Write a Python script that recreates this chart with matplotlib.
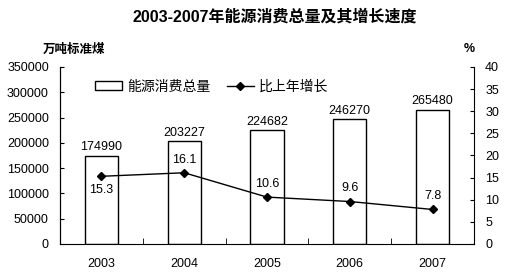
import matplotlib
matplotlib.use("Agg")
import numpy as np
from matplotlib import pyplot as plt
from matplotlib.lines import Line2D
from matplotlib.patches import Patch

plt.rcParams['font.family'] = ['Liberation Sans', 'Noto Sans CJK SC']

years = ['2003', '2004', '2005', '2006', '2007']
consumption = [174990, 203227, 224682, 246270, 265480]
growth = [15.3, 16.1, 10.6, 9.6, 7.8]
growth_label_above = [False, True, True, True, True]

fig = plt.figure(figsize=(5.12, 2.78), dpi=100)
ax = fig.add_axes([60 / 512, 1 - 244 / 278, 414 / 512, 177 / 278])
ax2 = ax.twinx()

x = np.arange(len(years))
ax.bar(x, consumption, width=0.4, facecolor='white', edgecolor='black', lw=1.0, zorder=2)
for xi, v in zip(x, consumption):
    ax.text(xi, v + 5000, f"{v}", ha='center', va='bottom', fontsize=9)

ax2.plot(x, growth, color='black', lw=1.0, marker='D', ms=4, zorder=3)
for xi, v, up in zip(x, growth, growth_label_above):
    if up:
        ax2.text(xi, v + 1.6, f"{v}", ha='center', va='bottom', fontsize=9)
    else:
        ax2.text(xi, v - 1.8, f"{v}", ha='center', va='top', fontsize=9)

ax.set_xlim(-0.5, len(years) - 0.5)
ax.set_ylim(0, 350000)
ax.set_yticks(np.arange(0, 350001, 50000))
ax2.set_ylim(0, 40)
ax2.set_yticks(np.arange(0, 41, 5))
ax.set_xticks(x)
ax.set_xticklabels(years)
ax.set_xticks(np.arange(-0.5, len(years), 1), minor=True)
ax.tick_params(axis='x', which='major', length=0, pad=10, labelsize=9)
ax.tick_params(axis='x', which='minor', direction='in', length=4)
ax.tick_params(axis='y', direction='in', length=3, labelsize=9, pad=8)
ax2.tick_params(axis='y', direction='in', length=3, labelsize=9, pad=8)

for a in (ax, ax2):
    a.spines['top'].set_visible(False)
ax2.spines['bottom'].set_visible(False)
ax.spines['right'].set_visible(False)

handles = [Patch(facecolor='white', edgecolor='black', lw=1.0),
           Line2D([], [], color='black', lw=1.0, marker='D', ms=4)]
ax.legend(handles, ['能源消费总量', '比上年增长'], loc='upper left', ncol=2,
          bbox_to_anchor=(0.055, 1.0), frameon=False, fontsize=10,
          handlelength=1.9, handleheight=0.6, columnspacing=1.2, handletextpad=0.4)

fig.text(275 / 512, 1 - 17 / 278, '2003-2007年能源消费总量及其增长速度',
         ha='center', va='center', fontsize=11.5, fontweight='bold')
fig.text(74 / 512, 1 - 50 / 278, '万吨标准煤', ha='center', va='center',
         fontsize=9, fontweight='bold')
fig.text(469 / 512, 1 - 49 / 278, '%', ha='center', va='center',
         fontsize=9, fontweight='bold')

fig.savefig('out.png', dpi=100)
